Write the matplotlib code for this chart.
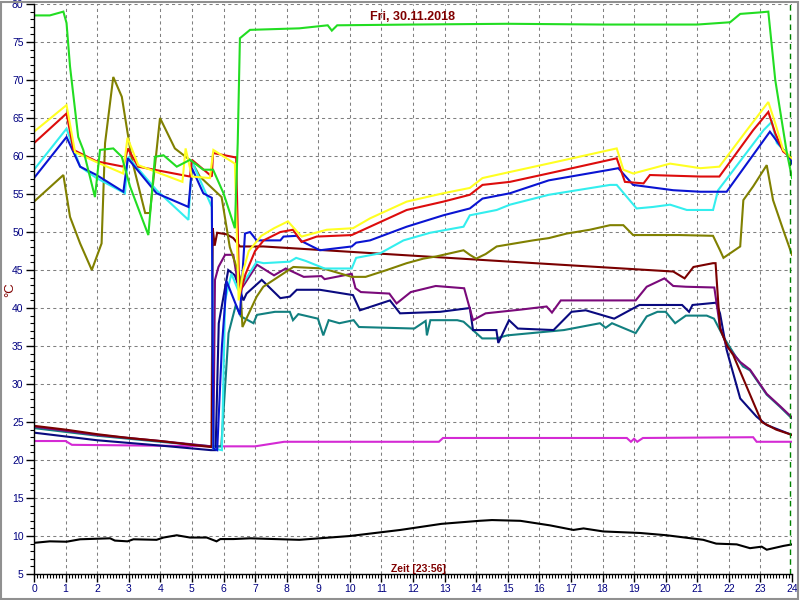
import matplotlib
matplotlib.use("Agg")
import matplotlib.pyplot as plt
from matplotlib.ticker import MultipleLocator
from matplotlib.patches import Rectangle

plt.rcParams['font.family'] = ['Liberation Sans', 'DejaVu Sans']

title = "Fri, 30.11.2018"
xlabel = "Zeit [23:56]"
ylabel = "°C"
now_h = 23.93

# each series: times (hours) and temperatures (°C)
green_t = [0, 0.5, 0.93, 1.03, 1.14, 1.4, 1.56, 1.93, 2.09, 2.51, 2.78, 3.04, 3.62, 3.83, 4.1, 4.52, 4.94, 5.36, 5.67, 6.0, 6.36, 6.45, 6.52, 6.84, 8.4, 9.3, 9.43, 9.6, 12, 15, 18, 21, 22.04, 22.36, 23.0, 23.25, 23.47, 23.83, 24]
green_v = [78.5, 78.5, 79, 77.5, 71.8, 62.5, 60.8, 54.6, 60.8, 61, 59.9, 56, 49.6, 59.9, 60.1, 58.6, 59.5, 58.2, 58.2, 55.1, 50.5, 61.7, 75.5, 76.6, 76.8, 77.2, 76.5, 77.2, 77.3, 77.4, 77.3, 77.3, 77.6, 78.7, 78.9, 79, 70, 60.6, 57.1]

yellow_t = [0, 1.03, 1.3, 1.98, 2.82, 2.96, 3.3, 4.0, 4.7, 4.8, 5.0, 5.57, 5.68, 6.36, 6.48, 6.63, 6.8, 7.2, 7.6, 8.04, 8.47, 9.27, 10.1, 10.64, 11.8, 12.96, 13.8, 14.2, 15.07, 16.5, 18.45, 18.66, 18.97, 20.14, 21.1, 21.7, 22.1, 22.57, 23.25, 23.47, 23.72, 24]
yellow_v = [63.2, 66.7, 60.5, 59.2, 57.7, 62.4, 58.8, 57.7, 56.6, 61, 57.3, 57.1, 60.8, 59, 41, 45, 47.5, 49.5, 50.5, 51.4, 49.4, 50.3, 50.5, 51.8, 54, 55.1, 55.8, 57.1, 57.9, 59.2, 61, 58.2, 57.7, 59, 58.4, 58.6, 60.8, 63.4, 67.1, 64.3, 60.8, 59.7]

red_t = [0, 1.03, 1.25, 1.98, 2.83, 2.97, 3.3, 4.94, 5.0, 5.63, 5.67, 6.4, 6.5, 6.7, 7.0, 7.27, 7.8, 8.2, 8.47, 8.95, 10.06, 10.64, 11.8, 12.96, 13.8, 14.2, 15.07, 16.5, 18.45, 18.71, 19.3, 19.5, 21.1, 21.7, 22.77, 23.25, 23.47, 23.72, 24]
red_v = [61.7, 65.6, 60.8, 59.3, 58.6, 61, 58.6, 57.3, 59.5, 57.3, 60.4, 59.8, 41.5, 44.5, 47.5, 48.9, 50, 50.3, 48.7, 49.4, 49.6, 50.7, 52.9, 54, 54.9, 56.2, 56.6, 57.9, 59.7, 56.6, 56.4, 57.5, 57.3, 57.3, 63.4, 65.8, 63, 60.6, 59.7]

cyan_t = [0, 1.03, 1.46, 1.98, 2.88, 2.97, 3.88, 4.89, 5.0, 5.63, 5.68, 5.95, 6.05, 6.25, 6.45, 6.63, 7.05, 7.27, 8.1, 8.3, 8.6, 9.2, 10.06, 10.2, 10.96, 11.7, 12.54, 13.6, 13.8, 14.65, 15.07, 16.3, 18.24, 18.45, 19.08, 19.6, 20.14, 20.67, 21.5, 21.66, 22.1, 23.1, 23.36, 23.52, 23.83, 24]
cyan_v = [58.2, 63.6, 58.6, 57.1, 55.1, 59.9, 55.5, 51.6, 59.3, 53.3, 21.5, 21.3, 41, 44.5, 42.5, 43.3, 46.1, 45.9, 46.1, 46.6, 46.2, 45.2, 45.2, 46.6, 47.2, 48.9, 49.9, 50.7, 52.2, 52.9, 53.6, 54.9, 56.2, 56.2, 53.1, 53.3, 53.6, 52.9, 52.9, 55.5, 57.9, 63.4, 64.5, 61.7, 60.4, 59.1]

blue_t = [0, 1.03, 1.46, 1.98, 2.83, 2.97, 3.88, 4.89, 5.0, 5.36, 5.63, 5.68, 5.8, 5.95, 6.1, 6.52, 6.68, 6.84, 7.05, 7.8, 7.9, 8.32, 8.47, 9.05, 10.06, 10.2, 10.64, 11.8, 12.96, 13.8, 14.2, 15.07, 16.3, 18.24, 18.5, 18.97, 20.24, 21.1, 21.93, 23.3, 23.62, 23.94, 24]
blue_v = [57.1, 62.5, 58.6, 57.5, 55.3, 59.7, 55.1, 53.3, 58.4, 55.1, 54.5, 21.5, 21.3, 35, 43.5, 39.1, 49.8, 50, 48.9, 48.9, 49.4, 49.5, 48.8, 47.6, 48.1, 48.6, 48.9, 50.7, 52.2, 53.1, 54.4, 55.1, 56.8, 58.2, 58.4, 56.2, 55.5, 55.3, 55.3, 63.2, 61.4, 59.7, 59]

olive_t = [0, 0.93, 1.14, 1.46, 1.83, 2.14, 2.25, 2.51, 2.78, 3.1, 3.52, 3.67, 3.99, 4.46, 4.99, 5.25, 5.94, 6.2, 6.52, 6.6, 7.05, 7.26, 8.21, 9.16, 10.06, 10.5, 11.17, 11.8, 12.33, 12.75, 13.6, 13.8, 14.0, 14.3, 14.65, 15.8, 16.3, 16.87, 17.6, 18.24, 18.66, 18.97, 20.45, 21.5, 21.72, 21.83, 22.36, 22.46, 22.77, 23.2, 23.4, 23.72, 24]
olive_v = [54, 57.5, 52, 48.5, 45, 48.5, 61.7, 70.4, 67.8, 59.5, 52.5, 52.5, 65, 61, 59.3, 57.3, 54.6, 48, 44.1, 37.5, 41.5, 42.8, 45.4, 45.2, 44.1, 44.1, 45, 45.9, 46.5, 46.8, 47.6, 47, 46.5, 47.1, 48.1, 48.9, 49.2, 49.8, 50.3, 50.9, 50.9, 49.6, 49.6, 49.5, 47.6, 46.6, 48.1, 54.2, 56, 58.8, 54.2, 50.3, 47]

maroon_t = [0, 1, 2, 3, 4, 5, 5.62, 5.66, 5.72, 5.8, 6.1, 6.31, 6.52, 7.26, 15.07, 20.24, 20.6, 20.88, 21.5, 21.58, 21.72, 21.95, 22.14, 23.04, 23.5, 24]
maroon_v = [24.5, 24.0, 23.4, 22.9, 22.5, 22.0, 21.7, 50.5, 48.2, 49.9, 49.7, 49.2, 48.1, 48.1, 46.1, 44.8, 43.9, 45.4, 45.9, 45.9, 37.3, 35.0, 33.8, 25.0, 24.0, 23.3]

purple_t = [0, 2, 4, 5.62, 5.68, 5.73, 5.84, 6.05, 6.31, 6.5, 7.06, 7.6, 7.97, 8.54, 9.1, 9.2, 10.06, 10.18, 10.35, 11.25, 11.48, 11.93, 12.72, 13.62, 13.9, 14.3, 15.43, 16.23, 16.4, 16.68, 18.15, 19.05, 19.4, 19.96, 20.24, 20.64, 21.54, 21.72, 21.93, 22.36, 22.67, 23.2, 23.62, 24]
purple_v = [24.4, 23.3, 22.5, 21.8, 21.8, 43.7, 45.4, 47, 47, 42.1, 45.7, 44.3, 45.2, 44.1, 44.2, 43.8, 44.5, 42.6, 42.1, 41.9, 40.6, 42.1, 42.9, 42.6, 38.4, 39.3, 39.8, 40.2, 39.4, 41, 41, 41, 42.8, 43.9, 42.9, 42.8, 42.7, 37.5, 35.0, 32.9, 31.9, 28.7, 27.1, 25.6]

navy_t = [0, 2, 4, 5.6, 5.75, 5.85, 6.15, 6.36, 6.63, 6.73, 7.21, 7.53, 7.8, 8.1, 8.32, 9.05, 10.1, 10.32, 11.27, 11.59, 12.86, 13.8, 13.9, 14.64, 14.7, 15.04, 15.32, 16.45, 17.02, 17.47, 18.37, 19.17, 20.52, 20.74, 20.85, 21.6, 21.72, 21.93, 22.36, 22.88, 23.2, 24]
navy_v = [23.6, 22.6, 21.9, 21.3, 21.3, 38, 45, 44.3, 41, 41.9, 43.7, 42.4, 41.3, 41.5, 42.4, 42.4, 41.7, 39.7, 41, 39.3, 39.5, 40, 37.1, 37.1, 35.4, 38.4, 37.3, 37.1, 39.5, 39.7, 38.6, 40.4, 40.4, 39.5, 40.4, 40.7, 39.3, 34.5, 28.1, 25.7, 24.6, 23.3]

teal_t = [0, 2, 4, 5.6, 5.93, 6.16, 6.39, 6.55, 6.95, 7.06, 7.63, 8.1, 8.2, 8.37, 8.99, 9.16, 9.33, 9.67, 10.12, 10.29, 12.04, 12.4, 12.44, 12.55, 13.4, 13.6, 14.19, 14.64, 14.98, 16.78, 17.92, 18.1, 18.3, 19.05, 19.4, 19.74, 20.0, 20.3, 20.64, 21.3, 21.53, 21.83, 22.22, 22.45, 22.67, 23.2, 23.62, 23.94, 24]
teal_v = [24.2, 23.2, 22.4, 21.8, 21.8, 36.7, 40.4, 38.9, 38, 39.1, 39.5, 39.5, 38.4, 39.2, 38.6, 36.4, 38.4, 38, 38.4, 37.5, 37.3, 38.3, 36.4, 38.4, 38.4, 38.2, 36, 36, 36.4, 37.1, 38, 37.4, 38, 36.7, 38.9, 39.5, 39.5, 38, 39, 39, 38.6, 36.2, 33.6, 32.3, 31.8, 28.6, 27, 25.7, 25.5]

magenta_t = [0, 1.0, 1.2, 5.93, 7.0, 7.92, 12.82, 12.95, 18.77, 18.9, 19.0, 19.1, 19.28, 22.77, 22.88, 24]
magenta_v = [22.5, 22.5, 22.0, 21.8, 21.8, 22.4, 22.4, 22.9, 22.9, 22.4, 22.8, 22.4, 22.9, 23.0, 22.4, 22.4]

black_t = [0, 0.5, 1.03, 1.46, 2.41, 2.56, 2.96, 3.15, 3.88, 4.1, 4.52, 4.94, 5.47, 5.78, 5.9, 6.31, 6.84, 8.4, 10, 11.6, 12.9, 14.1, 14.5, 15.4, 16.34, 17.08, 17.4, 18.03, 19.19, 20.03, 21.19, 21.6, 22.25, 22.67, 23.04, 23.2, 23.73, 24]
black_v = [9.1, 9.3, 9.25, 9.57, 9.7, 9.4, 9.3, 9.57, 9.5, 9.8, 10.1, 9.8, 9.8, 9.3, 9.6, 9.6, 9.7, 9.5, 10.0, 10.8, 11.6, 12.0, 12.1, 12.0, 11.4, 10.8, 11.0, 10.6, 10.4, 10.1, 9.5, 9.0, 8.9, 8.4, 8.6, 8.2, 8.7, 8.9]

series = [
    (black_t, black_v, '#000000'),
    (magenta_t, magenta_v, '#d42ad4'),
    (teal_t, teal_v, '#128080'),
    (navy_t, navy_v, '#0a0a80'),
    (purple_t, purple_v, '#7a0a7a'),
    (maroon_t, maroon_v, '#7a0000'),
    (olive_t, olive_v, '#808000'),
    (cyan_t, cyan_v, '#33eeee'),
    (blue_t, blue_v, '#0a14d2'),
    (red_t, red_v, '#dd0c0c'),
    (yellow_t, yellow_v, '#ffff22'),
    (green_t, green_v, '#22dd22'),
]

fig = plt.figure(figsize=(8, 6), dpi=100)
fig.patch.set_facecolor('white')
ax = fig.add_axes([0.0425, 0.0433, 0.9475, 0.95])

for t, v, c in series:
    ax.plot(t, v, color=c, lw=1.5, solid_joinstyle='miter')

ax.axvline(now_h, color='#008000', lw=1, ls=(0, (4, 3)))

ax.set_xlim(0, 24)
ax.set_ylim(5, 80)
ax.xaxis.set_major_locator(MultipleLocator(1))
ax.xaxis.set_minor_locator(MultipleLocator(0.1))
ax.yaxis.set_major_locator(MultipleLocator(5))
ax.yaxis.set_minor_locator(MultipleLocator(1))
ax.grid(True, which='major', color='#808080', lw=0.75, ls=(0, (3, 3)))
ax.set_axisbelow(True)

for s in ['top', 'right']:
    ax.spines[s].set_visible(False)
for s in ['left', 'bottom']:
    ax.spines[s].set_color('black')
    ax.spines[s].set_linewidth(1)

ax.tick_params(which='major', direction='out', length=6, width=1, color='black',
               labelcolor='#000080', labelsize=7.5, pad=1.5)
ax.tick_params(which='minor', direction='out', length=3, width=0.8, color='black')

ax.text(0.5, 0.977, title, transform=ax.transAxes, ha='center', va='center',
        color='#800000', fontsize=9, fontweight='bold')
ax.text(0.5066, 0.009, xlabel, transform=ax.transAxes, ha='center', va='center',
        color='#800000', fontsize=7.5, fontweight='bold')
fig.text(0.0125, 0.517, ylabel, rotation=90, ha='center', va='center',
         color='#800000', fontsize=9.5)

fig.patches.append(Rectangle((0.001, 0.002), 0.996, 0.995, transform=fig.transFigure,
                             fill=False, edgecolor='#909090', lw=1.5))

fig.savefig('out.png', dpi=100)
